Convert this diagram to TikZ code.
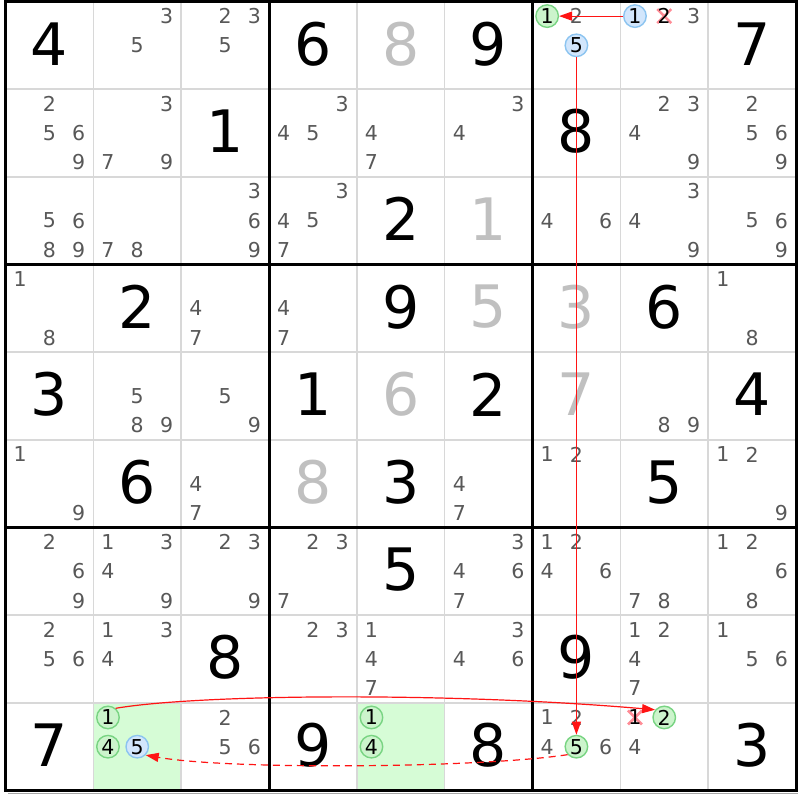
\documentclass[tikz,border=0pt]{standalone}
\usepackage{fontspec}
\setmainfont{DejaVu Sans}
\usetikzlibrary{arrows.meta}
\definecolor{candgrey}{RGB}{88,88,88}
\definecolor{solvedgrey}{RGB}{192,192,192}
\definecolor{thingrid}{RGB}{216,216,216}
\definecolor{cellgreen}{RGB}{214,252,214}
\definecolor{circgreenfill}{RGB}{204,244,204}
\definecolor{circgreenline}{RGB}{120,212,130}
\definecolor{circbluefill}{RGB}{210,230,252}
\definecolor{circblueline}{RGB}{140,196,240}
\definecolor{xpink}{RGB}{255,140,150}
\definecolor{linkred}{RGB}{255,20,20}
\newcommand\sdkcands[3]{\foreach \d in {#3}{%
  \pgfmathsetmacro\cpx{5.5+(#2-1)*87.833+(mod(\d-1,3)+0.5)*29.278}%
  \pgfmathsetmacro\cpy{1.5+(#1-1)*87.667+(floor((\d-1)/3)+0.5)*29.222}%
  \node[cand] (k#1#2\d) at (\cpx,\cpy) {\d};}}
\newcommand\sdkhcand[4]{%
  \pgfmathsetmacro\cpx{5.5+(#2-1)*87.833+(mod(#3-1,3)+0.5)*29.278}%
  \pgfmathsetmacro\cpy{1.5+(#1-1)*87.667+(floor((#3-1)/3)+0.5)*29.222}%
  \node[#4] (h#1#2#3) at (\cpx,\cpy) {#3};}
\newcommand\sdkxcand[3]{%
  \pgfmathsetmacro\cpx{5.5+(#2-1)*87.833+(mod(#3-1,3)+0.5)*29.278}%
  \pgfmathsetmacro\cpy{1.5+(#1-1)*87.667+(floor((#3-1)/3)+0.5)*29.222}%
  \draw[xmark] (\cpx-7,\cpy-7) -- (\cpx+7,\cpy+7) (\cpx-7,\cpy+7) -- (\cpx+7,\cpy-7);
  \node[candhi] (x#1#2#3) at (\cpx,\cpy) {#3};}
\newcommand\sdkbig[4]{%
  \pgfmathsetmacro\cpx{5.5+(#2-0.5)*87.833}%
  \pgfmathsetmacro\cpy{0+(#1-0.5)*87.667}%
  \node[#4] (b#1#2) at (\cpx,\cpy) {#3};}
\begin{document}
\begin{tikzpicture}[x=1pt,y=-1pt,
  cand/.style={text=candgrey,font=\fontsize{20.5}{21}\selectfont,inner sep=0pt},
  candhi/.style={text=black,font=\fontsize{20.5}{21}\selectfont,inner sep=0pt},
  given/.style={text=black,font=\fontsize{58.5}{59}\selectfont,inner sep=0pt},
  solved/.style={text=solvedgrey,font=\fontsize{58.5}{59}\selectfont,inner sep=0pt},
  gcirc/.style={circle,draw=circgreenline,fill=circgreenfill,line width=1.4pt,minimum size=22.5pt,inner sep=0pt,text=black,font=\fontsize{20.5}{21}\selectfont},
  bcirc/.style={circle,draw=circblueline,fill=circbluefill,line width=1.4pt,minimum size=22.5pt,inner sep=0pt,text=black,font=\fontsize{20.5}{21}\selectfont},
  xmark/.style={draw=xpink,line width=2.6pt},
  thinline/.style={draw=thingrid,line width=1.6pt},
  thickline/.style={draw=black,line width=3pt},
  link/.style={draw=linkred,line width=1.2pt,-{Triangle[length=13pt,width=9pt]}},
  dashlink/.style={link,dash pattern=on 7pt off 5pt},
  greencell/.style={fill=cellgreen,draw=none}
]
\useasboundingbox (0,0) rectangle (800,800);
\fill[white] (0,0) rectangle (800,800);
% green cells
\fill[greencell] (93.333,702.833) rectangle (181.167,790.5);
\fill[greencell] (356.833,702.833) rectangle (444.667,790.5);
% thin grid
\foreach \i in {1,2,4,5,7,8}{
  \draw[thinline] (5.5+\i*87.833,1.5) -- (5.5+\i*87.833,790.5);
  \draw[thinline] (5.5,1.5+\i*87.667) -- (796,1.5+\i*87.667);
}
% outer shadow
\draw[draw=black!35,line width=1.5pt] (8,793.5) -- (797.5,793.5);
% thick grid
\foreach \i in {0,3,6,9}{
  \draw[thickline] (5.5+\i*87.833,0) -- (5.5+\i*87.833,792);
  \draw[thickline] (4,1.5+\i*87.667) -- (797.5,1.5+\i*87.667);
}
% givens
\sdkbig{1}{1}{4}{given}\sdkbig{1}{4}{6}{given}\sdkbig{1}{6}{9}{given}\sdkbig{1}{9}{7}{given}
\sdkbig{2}{3}{1}{given}\sdkbig{2}{7}{8}{given}
\sdkbig{3}{5}{2}{given}
\sdkbig{4}{2}{2}{given}\sdkbig{4}{5}{9}{given}\sdkbig{4}{8}{6}{given}
\sdkbig{5}{1}{3}{given}\sdkbig{5}{4}{1}{given}\sdkbig{5}{6}{2}{given}\sdkbig{5}{9}{4}{given}
\sdkbig{6}{2}{6}{given}\sdkbig{6}{5}{3}{given}\sdkbig{6}{8}{5}{given}
\sdkbig{7}{5}{5}{given}
\sdkbig{8}{3}{8}{given}\sdkbig{8}{7}{9}{given}
\sdkbig{9}{1}{7}{given}\sdkbig{9}{4}{9}{given}\sdkbig{9}{6}{8}{given}\sdkbig{9}{9}{3}{given}
% solved
\sdkbig{1}{5}{8}{solved}\sdkbig{3}{6}{1}{solved}\sdkbig{4}{6}{5}{solved}\sdkbig{4}{7}{3}{solved}
\sdkbig{5}{5}{6}{solved}\sdkbig{5}{7}{7}{solved}\sdkbig{6}{4}{8}{solved}
% candidates
\sdkcands{1}{2}{3,5}\sdkcands{1}{3}{2,3,5}\sdkcands{1}{7}{2}\sdkcands{1}{8}{3}
\sdkcands{2}{1}{2,5,6,9}\sdkcands{2}{2}{3,7,9}\sdkcands{2}{4}{3,4,5}\sdkcands{2}{5}{4,7}
\sdkcands{2}{6}{3,4}\sdkcands{2}{8}{2,3,4,9}\sdkcands{2}{9}{2,5,6,9}
\sdkcands{3}{1}{5,6,8,9}\sdkcands{3}{2}{7,8}\sdkcands{3}{3}{3,6,9}\sdkcands{3}{4}{3,4,5,7}
\sdkcands{3}{7}{4,6}\sdkcands{3}{8}{3,4,9}\sdkcands{3}{9}{5,6,9}
\sdkcands{4}{1}{1,8}\sdkcands{4}{3}{4,7}\sdkcands{4}{4}{4,7}\sdkcands{4}{9}{1,8}
\sdkcands{5}{2}{5,8,9}\sdkcands{5}{3}{5,9}\sdkcands{5}{8}{8,9}
\sdkcands{6}{1}{1,9}\sdkcands{6}{3}{4,7}\sdkcands{6}{6}{4,7}\sdkcands{6}{7}{1,2}\sdkcands{6}{9}{1,2,9}
\sdkcands{7}{1}{2,6,9}\sdkcands{7}{2}{1,3,4,9}\sdkcands{7}{3}{2,3,9}\sdkcands{7}{4}{2,3,7}
\sdkcands{7}{6}{3,4,6,7}\sdkcands{7}{7}{1,2,4,6}\sdkcands{7}{8}{7,8}\sdkcands{7}{9}{1,2,6,8}
\sdkcands{8}{1}{2,5,6}\sdkcands{8}{2}{1,3,4}\sdkcands{8}{4}{2,3}\sdkcands{8}{5}{1,4,7}
\sdkcands{8}{6}{3,4,6}\sdkcands{8}{8}{1,2,4,7}\sdkcands{8}{9}{1,5,6}
\sdkcands{9}{3}{2,5,6}\sdkcands{9}{7}{1,2,4,6}\sdkcands{9}{8}{4}
% highlighted candidates
\sdkhcand{1}{7}{1}{gcirc}\sdkhcand{1}{7}{5}{bcirc}\sdkhcand{1}{8}{1}{bcirc}
\sdkhcand{9}{2}{1}{gcirc}\sdkhcand{9}{2}{4}{gcirc}\sdkhcand{9}{2}{5}{bcirc}
\sdkhcand{9}{5}{1}{gcirc}\sdkhcand{9}{5}{4}{gcirc}
\sdkhcand{9}{7}{5}{gcirc}\sdkhcand{9}{8}{2}{gcirc}
% eliminated candidates
\sdkxcand{1}{8}{2}\sdkxcand{9}{8}{1}
% links
\draw[link] (h181) -- (h171);
\draw[link] (h175) -- (h975);
\draw[link] (h921.50) .. controls (200,694) and (450,692) .. (h982.140);
\draw[dashlink] (h975.222) .. controls (480,768) and (230,770) .. (h925.-45);
\end{tikzpicture}
\end{document}
